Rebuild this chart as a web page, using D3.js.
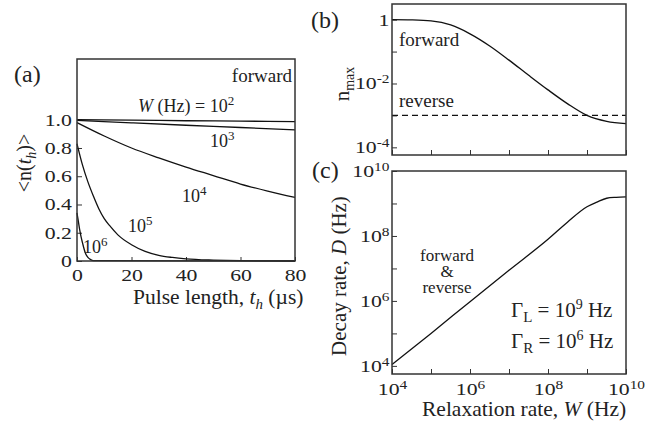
<!DOCTYPE html>
<html>
<head>
<meta charset="utf-8">
<script src="https://cdn.jsdelivr.net/npm/d3@7"></script>
<style>
  body { margin: 0; background: #fff; }
  svg text { font-family: "Liberation Serif", "Times New Roman", serif; fill: #222; }
</style>
</head>
<body>
<svg id="fig" width="646" height="431"></svg>
<script>
// (a) <n(t_h)> versus pulse length for each relaxation rate W
const w2T = [0, 20, 40, 60, 80];
const w2N = [1.0, 0.997, 0.993, 0.99, 0.987];
const w3T = [0, 20, 40, 60, 80];
const w3N = [0.995, 0.978, 0.961, 0.945, 0.928];
const w4T = [0, 10, 20, 30, 40, 50, 60, 70, 80];
const w4N = [0.98, 0.885, 0.80, 0.73, 0.665, 0.605, 0.545, 0.495, 0.45];
const w5T = [0, 2, 4, 6, 8, 10, 12, 15, 20, 25, 30, 35, 40, 50, 60, 80];
const w5N = [0.83, 0.68, 0.56, 0.46, 0.37, 0.30, 0.25, 0.185, 0.115, 0.068, 0.04, 0.025, 0.015, 0.006, 0.002, 0.0];
const w6T = [0, 0.5, 1, 1.5, 2, 3, 4, 5, 6, 80];
const w6N = [0.34, 0.28, 0.22, 0.17, 0.13, 0.06, 0.025, 0.01, 0.003, 0];
const aXTicks = [0, 20, 40, 60, 80];
const aYTicks = [0, 0.2, 0.4, 0.6, 0.8, 1.0];

// (b) n_max versus W
const bW = [1e4, 3.2e4, 1e5, 3.2e5, 1e6, 3.2e6, 1e7, 3.2e7, 1e8, 3.2e8, 1e9, 3.2e9, 1e10];
const bForward = [1.0, 0.98, 0.91, 0.68, 0.36, 0.15, 0.054, 0.018, 0.0063, 0.0023, 0.001, 0.00065, 0.00055];
const bRevW = [1e4, 1e10];
const bReverse = [1e-3, 1e-3];
const bYTicks = [1e-4, 1e-3, 1e-2, 1e-1, 1];

// (c) decay rate D versus W
const cW = [1e4, 1e5, 1e6, 1e7, 1e8, 3.2e8, 1e9, 1.8e9, 3.2e9, 5.6e9, 1e10];
const cD = [1.1e4, 1.0e5, 9.5e5, 8.8e6, 7.9e7, 2.7e8, 7.9e8, 1.1e9, 1.45e9, 1.55e9, 1.6e9];
const wTicks = [1e4, 1e5, 1e6, 1e7, 1e8, 1e9, 1e10];
const cYTicks = [1e4, 1e5, 1e6, 1e7, 1e8, 1e9, 1e10];

const svg = d3.select("#fig");
svg.append("rect").attr("width", 646).attr("height", 431).attr("fill", "#fff");

// tick labels in the figure are wide: squat font stretched sideways
const STRETCH = "scale(1.28,1)";

// write "10^k" into a text node with a superscript
function pow10(sel, k) {
  sel.text("10");
  sel.append("tspan").attr("dy", -6).attr("font-size", 12).text(k);
}

function frame(g, x, y) {
  g.append("rect")
    .attr("x", x.range()[0]).attr("y", y.range()[1])
    .attr("width", x.range()[1] - x.range()[0])
    .attr("height", y.range()[0] - y.range()[1])
    .attr("fill", "none").attr("stroke", "#333").attr("stroke-width", 1.5);
}

function styleAxis(g) {
  g.select(".domain").remove();
  g.selectAll(".tick line").attr("stroke", "#333").attr("stroke-width", 1);
  g.selectAll(".tick text").attr("font-size", 17).attr("fill", "#222")
    .attr("font-family", "Liberation Serif").attr("transform", STRETCH);
}
function bottomText(g, base) {
  g.selectAll(".tick text").attr("y", base).attr("dy", null);
}

/* ---------- panel (a) ---------- */
const xA = d3.scaleLinear().domain([0, 80]).range([77, 295]);
const yA = d3.scaleLinear().domain([0, 1.43]).range([261, 59]);
const gA = svg.append("g");

gA.append("g").attr("transform", "translate(0,261)")
  .call(d3.axisBottom(xA).tickValues(aXTicks).tickSize(-4).tickFormat(d3.format("d")))
  .call(styleAxis)
  .call(bottomText, 20);
gA.append("g").attr("transform", "translate(77,0)")
  .call(d3.axisLeft(yA).tickValues(aYTicks).tickSize(-5).tickPadding(4)
    .tickFormat(d => d === 0 ? "0" : d3.format(".1f")(d)))
  .call(styleAxis);

const lineA = d3.line().x(d => xA(d[0])).y(d => yA(d[1])).curve(d3.curveMonotoneX);
[[w2T, w2N], [w3T, w3N], [w4T, w4N], [w5T, w5N], [w6T, w6N]].forEach(([t, n]) => {
  gA.append("path").datum(d3.zip(t, n)).attr("d", lineA)
    .attr("fill", "none").attr("stroke", "#111").attr("stroke-width", 1.3);
});
frame(gA, xA, yA);

gA.append("text").attr("x", 14).attr("y", 82).attr("font-size", 24).text("(a)");
gA.append("text").attr("x", 292).attr("y", 82).attr("font-size", 19)
  .attr("text-anchor", "end").text("forward");
const wl = gA.append("text").attr("x", 138).attr("y", 112).attr("font-size", 18);
wl.append("tspan").attr("font-style", "italic").text("W");
wl.append("tspan").text(" (Hz) = 10");
wl.append("tspan").attr("dy", -7).attr("font-size", 13).text("2");
[[210, 147, 3], [182, 202, 4], [128, 232, 5], [83, 253, 6]].forEach(([x, y, k]) => {
  const t = gA.append("text").attr("x", x).attr("y", y).attr("font-size", 18).text("10");
  t.append("tspan").attr("dy", -7).attr("font-size", 13).text(k);
});
const xt = gA.append("text").attr("x", 133).attr("y", 304).attr("font-size", 21.5);
xt.append("tspan").text("Pulse length, ");
xt.append("tspan").attr("font-style", "italic").text("t");
xt.append("tspan").attr("font-style", "italic").attr("font-size", 15).attr("dy", 5).text("h");
xt.append("tspan").attr("dy", -5).text(" (\u00b5s)");
const yt = gA.append("text").attr("transform", "translate(31,163) rotate(-90)")
  .attr("text-anchor", "middle").attr("font-size", 20);
yt.append("tspan").text("<n(");
yt.append("tspan").attr("font-style", "italic").text("t");
yt.append("tspan").attr("font-style", "italic").attr("font-size", 14).attr("dy", 5).text("h");
yt.append("tspan").attr("dy", -5).text(")>");

/* ---------- panel (b) ---------- */
const xB = d3.scaleLog().domain([1e4, 1e10]).range([392, 626]);
const yB = d3.scaleLog().domain([Math.pow(10, -4.24), Math.pow(10, 0.49)]).range([155, 4]);
const gB = svg.append("g");

gB.append("g").attr("transform", "translate(0,155)")
  .call(d3.axisBottom(xB).tickValues(wTicks).tickSize(-5).tickFormat(""))
  .call(styleAxis);
gB.append("g").attr("transform", "translate(392,0)")
  .call(d3.axisLeft(yB).tickValues(bYTicks).tickSize(-5).tickPadding(2).tickFormat(""))
  .call(styleAxis)
  .selectAll(".tick text")
  .each(function(d) {
    const k = Math.round(Math.log10(d));
    if (k === 0) d3.select(this).text("1");
    else if (k % 2 === 0) pow10(d3.select(this), k);
  });

const lineB = d3.line().x(d => xB(d[0])).y(d => yB(d[1])).curve(d3.curveMonotoneX);
gB.append("path").datum(d3.zip(bW, bForward)).attr("d", lineB)
  .attr("fill", "none").attr("stroke", "#111").attr("stroke-width", 1.3);
gB.append("path").datum(d3.zip(bRevW, bReverse)).attr("d", lineB)
  .attr("fill", "none").attr("stroke", "#111").attr("stroke-width", 1.3)
  .attr("stroke-dasharray", "6,4");
frame(gB, xB, yB);

gB.append("text").attr("x", 311).attr("y", 28).attr("font-size", 24).text("(b)");
gB.append("text").attr("x", 399).attr("y", 46).attr("font-size", 19).text("forward");
gB.append("text").attr("x", 399).attr("y", 107).attr("font-size", 19).text("reverse");
const nt = gB.append("text").attr("transform", "translate(349,84) rotate(-90)")
  .attr("text-anchor", "middle").attr("font-size", 21);
nt.append("tspan").text("n");
nt.append("tspan").attr("font-size", 14).attr("dy", 5).text("max");

/* ---------- panel (c) ---------- */
const xC = d3.scaleLog().domain([1e4, 1e10]).range([392, 626]);
const yC = d3.scaleLog().domain([Math.pow(10, 3.75), 1e10]).range([374, 171]);
const gC = svg.append("g");

gC.append("g").attr("transform", "translate(0,374)")
  .call(d3.axisBottom(xC).tickValues(wTicks).tickSize(-5).tickFormat(""))
  .call(styleAxis)
  .call(bottomText, 21)
  .selectAll(".tick text")
  .each(function(d) {
    const k = Math.round(Math.log10(d));
    if (k % 2 === 0) pow10(d3.select(this), k);
  });
gC.append("g").attr("transform", "translate(392,0)")
  .call(d3.axisLeft(yC).tickValues(cYTicks).tickSize(-5).tickPadding(2).tickFormat(""))
  .call(styleAxis)
  .selectAll(".tick text")
  .each(function(d) {
    const k = Math.round(Math.log10(d));
    if (k % 2 === 0) pow10(d3.select(this), k);
  });

const lineC = d3.line().x(d => xC(d[0])).y(d => yC(d[1])).curve(d3.curveMonotoneX);
gC.append("path").datum(d3.zip(cW, cD)).attr("d", lineC)
  .attr("fill", "none").attr("stroke", "#111").attr("stroke-width", 1.3);
frame(gC, xC, yC);

gC.append("text").attr("x", 312).attr("y", 178).attr("font-size", 24).text("(c)");
// stacked three-line label kept in one text element
const fr = gC.append("text").attr("y", 261).attr("font-size", 17).attr("text-anchor", "middle");
[["forward", 0], ["&", 16], ["reverse", 16]].forEach(([s, dy]) => {
  fr.append("tspan").attr("x", 447).attr("dy", dy).text(s);
});
[["L", 9, 317], ["R", 6, 348]].forEach(([sub, k, y]) => {
  const t = gC.append("text").attr("x", 511).attr("y", y).attr("font-size", 21);
  t.append("tspan").text("\u0393");
  t.append("tspan").attr("font-size", 15).attr("dy", 5).text(sub);
  t.append("tspan").attr("dy", -5).text(" = 10");
  t.append("tspan").attr("font-size", 14).attr("dy", -8).text(k);
  t.append("tspan").attr("dy", 8).text(" Hz");
});
const ct = gC.append("text").attr("x", 422).attr("y", 416).attr("font-size", 21.5);
ct.append("tspan").text("Relaxation rate, ");
ct.append("tspan").attr("font-style", "italic").text("W");
ct.append("tspan").text(" (Hz)");
const dt = gC.append("text").attr("transform", "translate(346,276) rotate(-90)")
  .attr("text-anchor", "middle").attr("font-size", 21);
dt.append("tspan").text("Decay rate, ");
dt.append("tspan").attr("font-style", "italic").text("D");
dt.append("tspan").text(" (Hz)");
</script>
</body>
</html>
